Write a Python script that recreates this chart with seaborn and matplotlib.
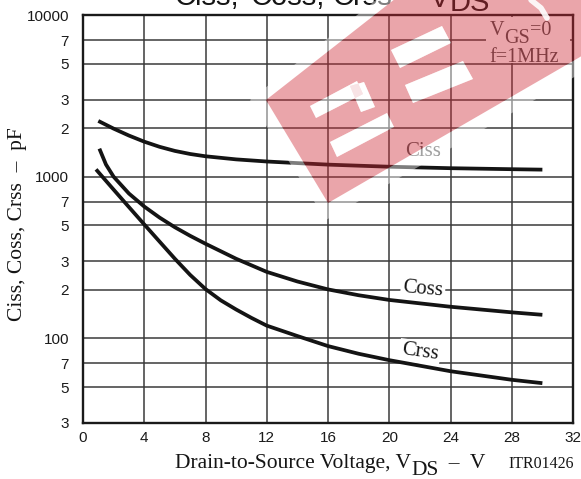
import numpy as np
import pandas as pd
import matplotlib
matplotlib.use("Agg")
import matplotlib.pyplot as plt
import seaborn as sns
from matplotlib.path import Path
from matplotlib.patches import PathPatch, Polygon, Rectangle
from matplotlib.transforms import IdentityTransform
from matplotlib.ticker import NullLocator

# ---------------- data ----------------
ciss_v = [1, 2, 3, 4, 5, 6, 7, 8, 10, 12, 14, 16, 18, 20, 24, 28, 30]
ciss_c = [2213, 1983, 1797, 1647, 1531, 1444, 1382, 1338, 1280, 1242, 1214, 1188, 1170, 1153, 1129, 1113, 1106]
coss_v = [1.07, 1.5, 2, 3, 4, 5, 6, 7, 8, 10, 12, 14, 16, 18, 20, 24, 28, 30]
coss_c = [1491, 1190, 1000, 787, 654, 559, 487, 431, 385, 311, 258, 225, 201, 185, 173, 157, 145, 140]
crss_v = [0.85, 1, 2, 3, 4, 5, 6, 7, 8, 9, 10, 11, 12, 14, 16, 18, 20, 24, 28, 30]
crss_c = [1110, 1069, 832, 649, 507, 397, 311, 247, 202, 172, 151, 134, 120, 103.5, 89.7, 80.4, 73.4, 62.7, 55.5, 52.9]

x_ticks = [0, 4, 8, 12, 16, 20, 24, 28, 32]
y_ticks = [30, 50, 70, 100, 200, 300, 500, 700, 1000, 2000, 3000, 5000, 7000, 10000]
y_tick_labels = ["3", "5", "7", "100", "2", "3", "5", "7", "1000", "2", "3", "5", "7", "10000"]

curve_names = ["Ciss", "Coss", "Crss"]

df = pd.concat([
    pd.DataFrame({"vds": ciss_v, "cap": ciss_c, "curve": "Ciss"}),
    pd.DataFrame({"vds": coss_v, "cap": coss_c, "curve": "Coss"}),
    pd.DataFrame({"vds": crss_v, "cap": crss_c, "curve": "Crss"}),
], ignore_index=True)

# ---------------- style ----------------
sns.set_theme(style="white")
plt.rcParams["font.family"] = ["Liberation Sans", "DejaVu Sans"]
SERIF = ["Liberation Serif", "DejaVu Serif"]
SANS = ["Liberation Sans", "DejaVu Sans"]

W, H = 581, 479
fig = plt.figure(figsize=(W / 100, H / 100), dpi=100)
fig.patch.set_facecolor("white")

L, R, T, B = 83, 573, 15, 423
ax = fig.add_axes([L / W, 1 - B / H, (R - L) / W, (B - T) / H])
ax.set_facecolor("white")

sns.lineplot(data=df, x="vds", y="cap", hue="curve", hue_order=curve_names,
             palette={"Ciss": "#141414", "Coss": "#141414", "Crss": "#141414"},
             linewidth=2.7, legend=False, estimator=None, sort=True, ax=ax, zorder=4)
for ln in ax.get_lines():
    ln.set_solid_joinstyle("round")
    ln.set_solid_capstyle("butt")

ax.set_yscale("log")
ax.set_xlim(0, 32)
ax.set_ylim(30, 10000)
ax.set_xticks(x_ticks)
ax.set_xticklabels([str(v) for v in x_ticks])
ax.set_yticks(y_ticks)
ax.set_yticklabels(y_tick_labels)
ax.yaxis.set_minor_locator(NullLocator())
ax.tick_params(axis="both", length=0, labelsize=11, colors="#1a1a1a")
ax.tick_params(axis="x", pad=6)
ax.tick_params(axis="y", pad=10)
for lab in ax.get_xticklabels() + ax.get_yticklabels():
    lab.set_family(SANS)
ax.set_xlabel("")
ax.set_ylabel("")
ax.grid(True, which="major", color="#3a3a3a", linewidth=1.1)
ax.set_axisbelow(True)
for s in ax.spines.values():
    s.set_visible(True)
    s.set_color("#1a1a1a")
    s.set_linewidth(1.7)

# condition box (white background breaking the grid)
ax.add_patch(Rectangle((26.3, 5080), 5.5, 9660 - 5080, facecolor="white",
                       edgecolor="none", zorder=3))

# curve labels (white box breaks the grid, curves stay on top)
ax.text(22.2, 1428, "Ciss", family=SERIF, fontsize=15, color="#555555",
        ha="center", va="center", zorder=3.5)
ax.text(22.2, 202, "Coss", family=SERIF, fontsize=15, color="#151515",
        ha="center", va="center", rotation=-5, zorder=3.5,
        bbox=dict(facecolor="white", edgecolor="none", pad=1.5))
ax.text(22.0, 82, "Crss", family=SERIF, fontsize=15, color="#151515",
        ha="center", va="center", rotation=-8, zorder=3.5,
        bbox=dict(facecolor="white", edgecolor="none", pad=1.5))

fig.canvas.draw()
renderer = fig.canvas.get_renderer()


def seq_text(x, pieces, family, color="#151515"):
    """pieces: list of (string, baseline_y_from_top, fontsize). x in pixels."""
    cx = x
    for s, by, fs in pieces:
        t = fig.text(cx, H - by, s, transform=IdentityTransform(), family=family,
                     fontsize=fs, color=color, ha="left", va="baseline", zorder=6)
        cx += t.get_window_extent(renderer).width
    return cx


def put(x, by, s, family, fs, color="#151515"):
    fig.text(x, H - by, s, transform=IdentityTransform(), family=family,
             fontsize=fs, color=color, ha="left", va="baseline", zorder=6)


# title (cut off at the top in the reference)
put(175, 5, "Ciss,", SANS, 21)
put(250, 5, "Coss,", SANS, 21)
put(333, 5, "Crss", SANS, 21)
put(397, 5, "\u2013", SANS, 21)
seq_text(430, [("V", 7, 21), ("DS", 11, 21)], SANS)

# x label
seq_text(175, [("Drain-to-Source Voltage, V", 468, 15.5), ("DS", 475, 15.5),
               ("  \u2013  V", 468, 15.5)], SERIF)
put(508, 468, "ITR01426", SERIF, 11.5)

# y label
fig.text(18, H - 224, "Ciss, Coss, Crss  \u2013  pF", transform=IdentityTransform(),
         family=SERIF, fontsize=15.5, color="#151515", rotation=90,
         ha="center", va="center")

# conditions
seq_text(490, [("V", 35, 14.5), ("GS", 43, 14.5), ("=0", 35, 14.5)], SERIF, color="#4a4a4a")
put(489, 62, "f=1MHz", SERIF, 14.5, color="#4a4a4a")

# ---------------- watermark overlay (decoration) ----------------
ov = fig.add_axes([0, 0, 1, 1], zorder=20)
ov.set_xlim(0, W)
ov.set_ylim(H, 0)
ov.axis("off")
ov.patch.set_alpha(0)


def orient(poly, ccw=True):
    p = np.asarray(poly, float)
    a = 0.5 * np.sum(p[:, 0] * np.roll(p[:, 1], -1) - np.roll(p[:, 0], -1) * p[:, 1])
    if (a > 0) != ccw:
        p = p[::-1]
    return p


def compound(outer, holes):
    verts, codes = [], []
    for poly in [orient(outer, True)] + [orient(h, False) for h in holes]:
        verts += list(poly) + [poly[0]]
        codes += [Path.MOVETO] + [Path.LINETO] * (len(poly) - 1) + [Path.CLOSEPOLY]
    return Path(np.array(verts), codes)


pink_outer = [(400, -5), (266, 100), (328, 203), (580, 57), (590, 50), (590, -5)]
halo_outer = [(395, -15), (250, 100), (326, 220), (590, 68), (600, 60), (600, -15)]
cutouts = [
    [(391, 50), (442, 26), (451, 43), (400, 68)],
    [(405, 85), (463, 61), (473, 79), (413, 103)],
    [(310, 106), (357, 81), (363, 94), (316, 118)],
    [(350, 86), (364, 82), (375, 107), (361, 112)],
    [(330, 142), (387, 113), (394, 127), (337, 157)],
]

ov.add_patch(PathPatch(compound(halo_outer, [pink_outer]), facecolor="white",
                       edgecolor="none", alpha=0.45))
ov.add_patch(PathPatch(compound(pink_outer, cutouts), facecolor="#CF2935",
                       edgecolor="none", alpha=0.42))
for c in cutouts:
    ov.add_patch(Polygon(c, closed=True, facecolor="white", edgecolor="none", alpha=0.45))
ov.plot([531, 541, 547], [0, 8, 18], color="white", lw=4, alpha=0.9,
        solid_capstyle="round")

fig.savefig("out.png", dpi=100, facecolor="white")
